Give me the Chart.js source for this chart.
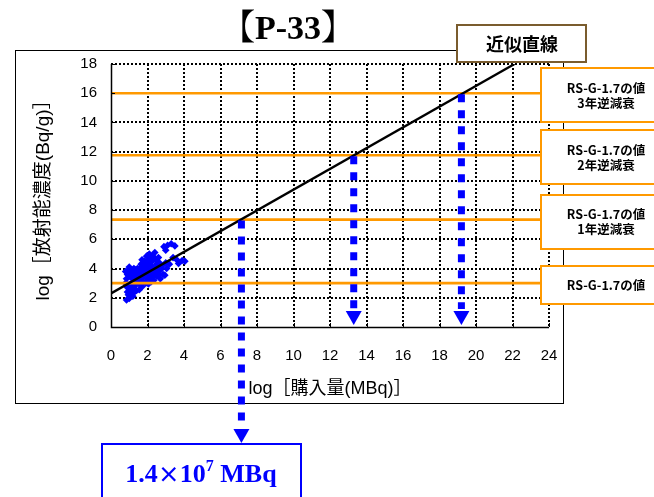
<!DOCTYPE html>
<html>
<head>
<meta charset="utf-8">
<script src="https://cdn.jsdelivr.net/npm/chart.js@4.4.1/dist/chart.umd.min.js"></script>
<style>
  html, body { margin: 0; padding: 0; background: #fff; }
  #wrap { width: 654px; height: 497px; position: relative; }
</style>
</head>
<body>
<div id="wrap"><canvas id="c" width="654" height="497"></canvas></div>
<script>
// ---- data ----
const chartTitle = '【P-33】';
const xAxisTitle = 'log［購入量(MBq)］';
const yAxisTitle = 'log［放射能濃度(Bq/g)］';
const xTickStep = 2;
const yTickStep = 2;
const xRange = [0, 24];
const yRange = [0, 18];

// measured samples: log10 purchase amount (MBq) vs log10 concentration (Bq/g)
const purchaseLog = [
  0.85, 1.00, 0.95, 1.20, 1.25, 1.40, 1.55, 1.10, 0.90, 1.30, 1.00, 1.60, 0.80, 1.15,
  0.85, 0.90, 0.95, 1.05, 1.10, 1.20, 1.25, 0.80, 1.00, 1.30, 0.90, 1.10,
  1.40, 1.50, 1.60, 1.45, 1.70, 1.80, 1.75, 1.90, 1.65, 1.85, 2.00, 2.10, 2.05, 2.20,
  2.00, 2.15, 2.30, 2.40, 2.35, 2.50, 2.25, 2.45, 2.60, 2.70, 2.55, 2.80, 2.65, 1.55,
  1.90, 2.20, 1.35, 1.70, 1.95, 2.10, 2.30, 2.40, 1.80, 2.00, 2.25, 2.50, 1.60, 2.70,
  2.85, 1.50, 1.45, 1.65, 1.75, 1.85, 2.05, 2.15, 2.35, 2.55, 2.60, 1.95, 2.45, 1.30,
  1.20, 1.40, 2.75, 2.90, 3.10, 3.50, 3.30, 3.00, 3.40, 3.60, 3.90, 4.05, 3.70, 3.00,
  3.20, 2.95, 3.05, 2.20, 1.70, 2.05, 2.30, 1.50, 1.15, 2.60
];
const concLog = [
  1.85, 1.95, 2.20, 2.10, 2.35, 2.50, 2.55, 2.60, 2.70, 2.80, 2.90, 2.90, 3.00, 3.05,
  3.30, 3.60, 3.90, 3.45, 3.75, 3.30, 4.00, 3.80, 4.10, 3.60, 2.40, 2.25,
  3.10, 3.40, 3.70, 4.00, 3.20, 3.50, 3.90, 4.10, 4.30, 4.50, 3.30, 3.60, 3.90, 4.20,
  4.40, 4.70, 3.40, 3.70, 4.00, 4.30, 4.50, 4.60, 3.60, 3.90, 4.10, 4.20, 4.40, 3.00,
  3.00, 3.10, 3.35, 4.60, 4.85, 5.00, 4.85, 5.10, 4.20, 3.75, 3.95, 3.50, 4.05, 3.30,
  3.60, 3.60, 3.70, 3.45, 3.00, 3.85, 4.55, 3.45, 3.20, 3.80, 4.20, 4.10, 3.90, 3.95,
  3.60, 3.85, 4.00, 5.50, 5.60, 5.55, 5.70, 5.25, 4.75, 4.60, 4.55, 4.50, 4.35, 4.40,
  4.30, 3.55, 4.00, 3.30, 2.75, 2.95, 3.65, 3.25, 3.40, 4.75
];

// least-squares fit line: log C = a + b log A
const fitIntercept = 2.3;
const fitSlope = 0.71;
const fitXEnd = 22.11;

// clearance level and its back-decayed values (1, 2, 3 years)
const limitLevels = [3.0, 7.35, 11.75, 16.0];
const limitLabels = [
  ['RS-G-1.7の値'],
  ['RS-G-1.7の値', '1年逆減衰'],
  ['RS-G-1.7の値', '2年逆減衰'],
  ['RS-G-1.7の値', '3年逆減衰']
];

// read-off points: where the fit line meets each level, dropped down to the axis
const resultMBq = 1.4e7;
const arrowX = [Math.log10(resultMBq), 13.3, 19.2];
const arrowFrom = [7.35, 11.75, 16.0];
const arrowTip = [-7.94, 0.14, 0.14];
const fitLabel = '近似直線';

// ---- colours / fonts ----
const BLUE = '#0000FF';
const ORANGE = '#FF9900';
const BROWN = '#7A5C2E';
const SANS = '"Liberation Sans", "Noto Sans CJK JP", sans-serif';
const CJK = '"Noto Sans CJK JP", "Liberation Sans", sans-serif';

const scatterPts = purchaseLog.map((x, i) => ({ x, y: concLog[i] }));

const datasets = [];
datasets.push({
  label: 'samples',
  data: scatterPts,
  pointStyle: 'rectRot',
  pointRadius: 3.8,
  pointBorderWidth: 0,
  backgroundColor: BLUE,
  borderColor: BLUE,
  order: 5
});
limitLevels.forEach((lv, i) => {
  datasets.push({
    label: 'level' + i,
    data: [{ x: xRange[0], y: lv }, { x: xRange[1], y: lv }],
    showLine: true,
    borderColor: ORANGE,
    borderWidth: 2.6,
    pointRadius: 0,
    order: 3
  });
});
datasets.push({
  label: 'fit',
  data: [{ x: 0, y: fitIntercept }, { x: fitXEnd, y: fitIntercept + fitSlope * fitXEnd }],
  showLine: true,
  borderColor: '#000',
  borderWidth: 2.4,
  pointRadius: 0,
  order: 2
});

const frame = { left: 15, top: 50, right: 563, bottom: 403 };

const decor = {
  id: 'decor',
  beforeDraw(chart) {
    const ctx = chart.ctx;
    ctx.save();
    ctx.fillStyle = '#fff';
    ctx.fillRect(0, 0, chart.width, chart.height);
    ctx.strokeStyle = '#000';
    ctx.lineWidth = 1;
    ctx.strokeRect(frame.left + 0.5, frame.top + 0.5, frame.right - frame.left, frame.bottom - frame.top);
    ctx.restore();
  },
  beforeDatasetsDraw(chart) {
    // dotted grid at every tick
    const ctx = chart.ctx;
    const xs = chart.scales.x, ys = chart.scales.y;
    const a = chart.chartArea;
    ctx.save();
    ctx.strokeStyle = '#000';
    ctx.lineWidth = 2;
    ctx.setLineDash([2, 2]);
    ctx.beginPath();
    for (let v = xRange[0] + xTickStep; v <= xRange[1]; v += xTickStep) {
      const px = Math.round(xs.getPixelForValue(v));
      ctx.moveTo(px, Math.round(a.top));
      ctx.lineTo(px, a.bottom);
    }
    for (let v = yRange[0] + yTickStep; v <= yRange[1]; v += yTickStep) {
      const py = Math.round(ys.getPixelForValue(v));
      ctx.moveTo(Math.round(a.left), py);
      ctx.lineTo(a.right, py);
    }
    ctx.stroke();
    ctx.restore();
  },
  afterDatasetsDraw(chart) {
    // dashed read-off arrows
    const ctx = chart.ctx;
    const xs = chart.scales.x, ys = chart.scales.y;
    ctx.save();
    ctx.fillStyle = BLUE;
    ctx.strokeStyle = BLUE;
    arrowX.forEach((ax, i) => {
      const px = xs.getPixelForValue(ax);
      const top = ys.getPixelForValue(arrowFrom[i]);
      const tip = ys.getPixelForValue(arrowTip[i]);
      const headH = 14, headW = 16;
      ctx.lineWidth = 7;
      ctx.lineCap = 'butt';
      ctx.setLineDash([8, 8]);
      ctx.beginPath();
      ctx.moveTo(px, top + 1);
      ctx.lineTo(px, tip - headH - 2);
      ctx.stroke();
      ctx.setLineDash([]);
      ctx.beginPath();
      ctx.moveTo(px - headW / 2, tip - headH);
      ctx.lineTo(px + headW / 2, tip - headH);
      ctx.lineTo(px, tip);
      ctx.closePath();
      ctx.fill();
    });
    ctx.restore();
  },
  afterDraw(chart) {
    const ctx = chart.ctx;
    const xs = chart.scales.x, ys = chart.scales.y;
    const a = chart.chartArea;
    ctx.save();

    // solid axes with inward tick marks
    ctx.strokeStyle = '#000';
    ctx.lineWidth = 1.5;
    ctx.beginPath();
    ctx.moveTo(Math.round(a.left) + 0.5, a.top);
    ctx.lineTo(Math.round(a.left) + 0.5, Math.round(a.bottom) + 0.5);
    ctx.lineTo(a.right, Math.round(a.bottom) + 0.5);
    ctx.stroke();
    ctx.lineWidth = 1;
    ctx.beginPath();
    for (let v = xRange[0] + xTickStep; v <= xRange[1]; v += xTickStep) {
      const px = Math.round(xs.getPixelForValue(v)) + 0.5;
      ctx.moveTo(px, a.bottom);
      ctx.lineTo(px, a.bottom - 4);
    }
    for (let v = yRange[0] + yTickStep; v <= yRange[1]; v += yTickStep) {
      const py = Math.round(ys.getPixelForValue(v)) + 0.5;
      ctx.moveTo(a.left, py);
      ctx.lineTo(a.left + 4, py);
    }
    ctx.stroke();

    // chart title
    ctx.fillStyle = '#000';
    ctx.font = 'bold 34px "Liberation Serif", "Noto Serif CJK JP", "Noto Sans CJK JP", serif';
    ctx.textAlign = 'center';
    ctx.textBaseline = 'alphabetic';
    ctx.fillText(chartTitle, 288, 39);

    // fit line label box
    ctx.fillStyle = '#fff';
    ctx.fillRect(457, 25, 129, 37);
    ctx.strokeStyle = BROWN;
    ctx.lineWidth = 2;
    ctx.strokeRect(457, 25, 129, 37);
    ctx.fillStyle = '#000';
    ctx.font = 'bold 18px ' + CJK;
    ctx.textBaseline = 'middle';
    ctx.fillText(fitLabel, 522, 44);

    // level label boxes, centred on each level line
    limitLevels.forEach((lv, i) => {
      const lines = limitLabels[i];
      const cy = ys.getPixelForValue(lv) + 2;
      const h = lines.length > 1 ? 54 : 38;
      const top = Math.round(cy - h / 2);
      ctx.fillStyle = '#fff';
      ctx.fillRect(541, top, 130, h);
      ctx.strokeStyle = ORANGE;
      ctx.lineWidth = 2;
      ctx.strokeRect(541, top, 130, h);
      ctx.fillStyle = '#000';
      ctx.font = 'bold 12.5px ' + CJK;
      ctx.textAlign = 'center';
      ctx.textBaseline = 'middle';
      if (lines.length === 1) {
        ctx.fillText(lines[0], 606, cy);
      } else {
        ctx.fillText(lines[0], 606, cy - 7);
        ctx.fillText(lines[1], 606, cy + 8);
      }
    });

    // result box below the chart
    const bx = 102, by = 444;
    ctx.strokeStyle = BLUE;
    ctx.lineWidth = 2;
    ctx.strokeRect(bx, by, 199, 70);
    const e = Math.floor(Math.log10(resultMBq));
    const mant = (resultMBq / Math.pow(10, e)).toFixed(1);
    const big = 'bold 26px "Liberation Serif", serif';
    const times = 'bold 22px ' + CJK;
    const sup = 'bold 16px "Liberation Serif", serif';
    const parts = [
      { t: mant, f: big, dy: 0 },
      { t: '×', f: times, dy: 0 },
      { t: '10', f: big, dy: 0 },
      { t: String(e), f: sup, dy: -11 },
      { t: ' MBq', f: big, dy: 0 }
    ];
    let total = 0;
    parts.forEach(p => { ctx.font = p.f; p.w = ctx.measureText(p.t).width; total += p.w; });
    let tx = 201 - total / 2;
    ctx.fillStyle = BLUE;
    ctx.textAlign = 'left';
    ctx.textBaseline = 'alphabetic';
    parts.forEach(p => { ctx.font = p.f; ctx.fillText(p.t, tx, 482 + p.dy); tx += p.w; });

    ctx.restore();
  }
};

new Chart(document.getElementById('c'), {
  type: 'scatter',
  data: { datasets },
  options: {
    responsive: false,
    animation: false,
    devicePixelRatio: 1,
    layout: { padding: { left: 15, top: 64, right: 105, bottom: 94 } },
    plugins: { legend: { display: false }, tooltip: { enabled: false }, title: { display: false } },
    scales: {
      x: {
        type: 'linear',
        min: xRange[0],
        max: xRange[1],
        ticks: { stepSize: xTickStep, color: '#000', font: { family: SANS, size: 15 }, padding: 20 },
        grid: { display: false, drawTicks: false },
        border: { display: false },
        title: {
          display: true, text: xAxisTitle, color: '#000',
          font: { family: SANS, size: 18 }, padding: { top: 0, bottom: 3 }
        },
        afterFit(s) { s.height = 76; }
      },
      y: {
        type: 'linear',
        min: yRange[0],
        max: yRange[1],
        ticks: { stepSize: yTickStep, color: '#000', font: { family: SANS, size: 15 }, padding: 14 },
        grid: { display: false, drawTicks: false },
        border: { display: false },
        title: {
          display: true, text: yAxisTitle, color: '#000',
          font: { family: SANS, size: 19 }, padding: { top: 17, bottom: 0 }
        },
        afterFit(s) { s.width = 96; }
      }
    }
  },
  plugins: [decor]
});
</script>
</body>
</html>
